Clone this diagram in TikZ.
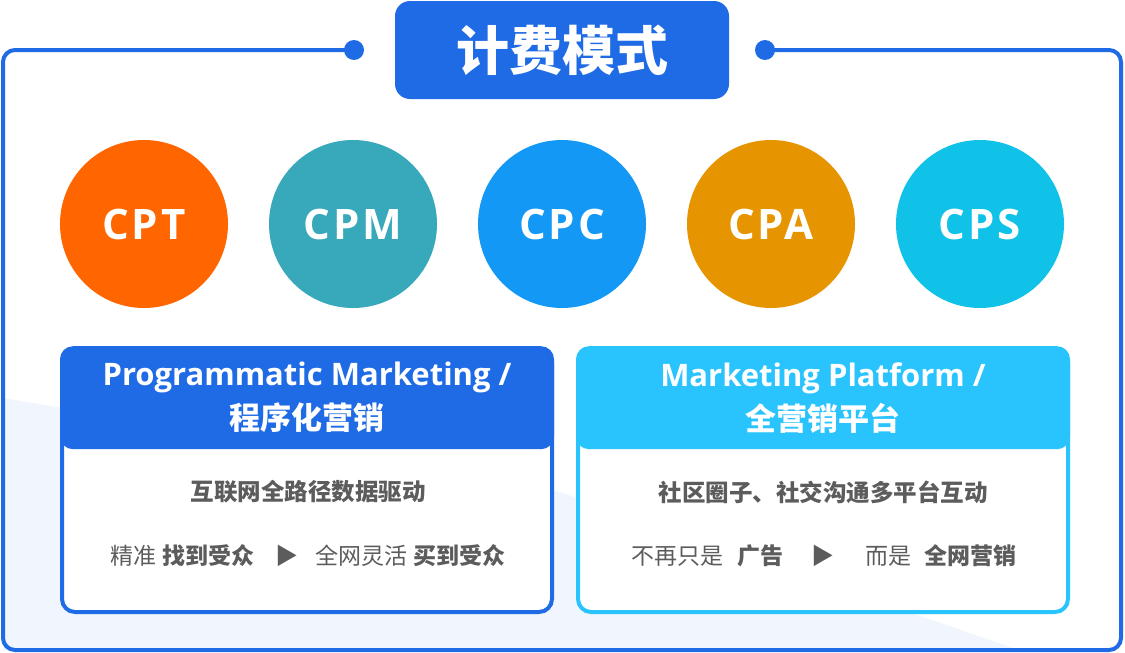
\documentclass[tikz,border=0pt]{standalone}
\usepackage{fontspec}
\setmainfont{Open Sans}
\newfontfamily\cjk{Noto Sans CJK SC}
\newfontfamily\capsfont[LetterSpace=7]{Open Sans}
\usetikzlibrary{positioning}
\definecolor{frameblue}{HTML}{1F6BE5}
\definecolor{skyblue}{HTML}{29C3FD}
\definecolor{paleblue}{HTML}{F1F6FE}
\definecolor{textgray}{HTML}{5C5C5C}
\definecolor{cptorange}{HTML}{FF6600}
\definecolor{cpmteal}{HTML}{38A8BB}
\definecolor{cpcblue}{HTML}{1399F5}
\definecolor{cpaamber}{HTML}{E69500}
\definecolor{cpscyan}{HTML}{11C2E8}
\tikzstyle{price}=[circle, minimum size=168pt, inner sep=0pt, text=white, font={\capsfont\bfseries\fontsize{42}{42}\selectfont}]
\tikzstyle{pin}=[circle, fill=frameblue, minimum size=20pt, inner sep=0pt]
\tikzstyle{card}=[rectangle, rounded corners=13pt, fill=white, line width=4pt, minimum width=490pt, minimum height=262pt]
\tikzstyle{cardhead}=[rectangle, rounded corners=13pt, minimum width=494pt, minimum height=103pt, text=white, align=center, font={\bfseries\fontsize{31}{44}\selectfont}]
\tikzstyle{bodytext}=[text=textgray, font={\cjk\fontsize{23}{23}\selectfont}]

\begin{document}
\begin{tikzpicture}[x=1pt, y=-1pt, line cap=round]
    \useasboundingbox (0,0) rectangle (1125,653);
    % pale backdrop
    \fill[paleblue] (3,398) -- (560,492) -- (1022,651) -- (3,651) -- cycle;

    % title and frame
    \node[rectangle, rounded corners=15pt, fill=frameblue, minimum width=334pt, minimum height=98pt, text=white, font={\cjk\bfseries\fontsize{53}{53}\selectfont}] (title) at (562,50) {计费模式};
    \node[pin] (pinl) at (354,50) {};
    \node[pin] (pinr) at (765,50) {};
    \coordinate (tl) at (3,50);
    \coordinate (bl) at (3,650);
    \coordinate (br) at (1121,650);
    \coordinate (tr) at (1121,50);
    \draw[frameblue, line width=4pt, rounded corners=12pt] (pinl.center) -- (tl) -- (bl) -- (br) -- (tr) -- (pinr.center);

    % pricing circles
    \node[price, fill=cptorange] (cpt) at (144,224) {CPT};
    \node[price, fill=cpmteal] (cpm) at (353,224) {CPM};
    \node[price, fill=cpcblue] (cpc) at (562,224) {CPC};
    \node[price, fill=cpaamber] (cpa) at (771,224) {CPA};
    \node[price, fill=cpscyan] (cps) at (980,224) {CPS};

    % programmatic marketing card
    \node[card, draw=frameblue] (progcard) at (307,481) {};
    \node[cardhead, fill=frameblue, anchor=north] (proghead) at ([yshift=2pt]progcard.north) {Programmatic Marketing /\\{\cjk 程序化营销}};
    \node[bodytext, font={\cjk\bfseries\fontsize{23.5}{23.5}\selectfont}] (progline) at (308,492) {互联网全路径数据驱动};
    \node[bodytext] (progflow) at (308,556) {精准\hspace{6pt}\textbf{找到受众}\hspace{21pt}▶\hspace{18pt}全网灵活\hspace{6pt}\textbf{买到受众}};

    % marketing platform card
    \node[card, draw=skyblue] (platcard) at (823,481) {};
    \node[cardhead, fill=skyblue, anchor=north] (plathead) at ([yshift=2pt]platcard.north) {Marketing Platform /\\{\cjk 全营销平台}};
    \node[bodytext, font={\cjk\bfseries\fontsize{23.5}{23.5}\selectfont}] (platline) at (823,492) {社区圈子、社交沟通多平台互动};
    \node[bodytext] (platflow) at (824,556) {不再只是\hspace{14pt}\textbf{广告}\hspace{28pt}▶\hspace{31pt}而是\hspace{13pt}\textbf{全网营销}};
\end{tikzpicture}
\end{document}
